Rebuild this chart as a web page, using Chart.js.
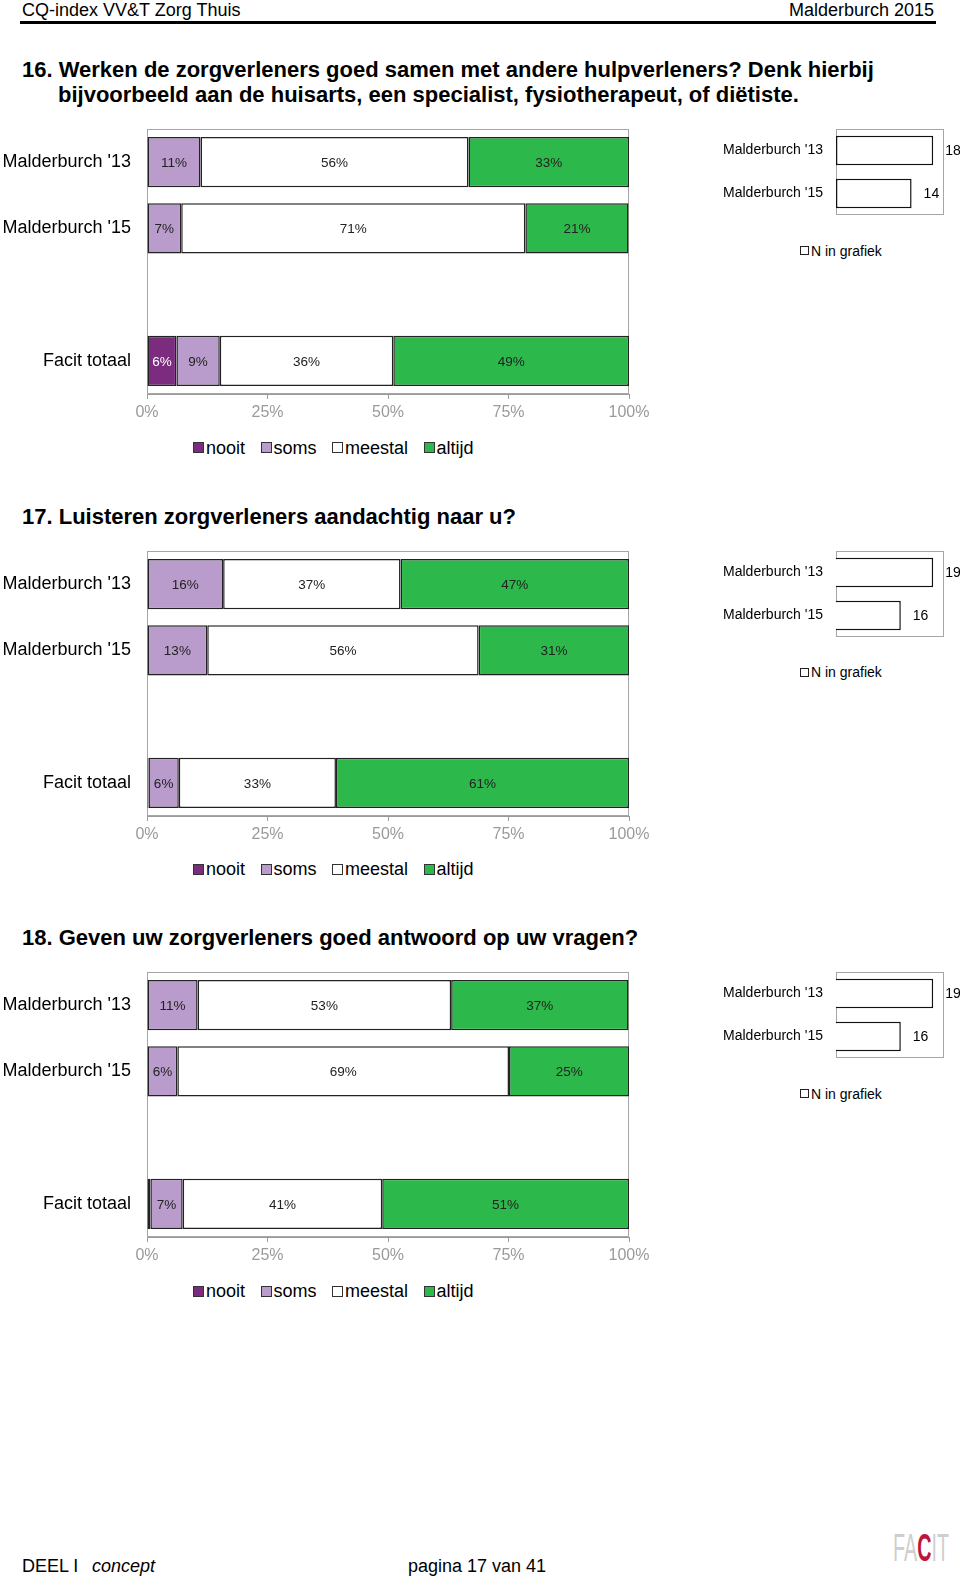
<!DOCTYPE html>
<html>
<head>
<meta charset="utf-8">
<title>CQ-index VV&amp;T Zorg Thuis - Malderburch 2015</title>
<script src="https://cdn.jsdelivr.net/npm/chart.js@4.4.1/dist/chart.umd.min.js"></script>
<style>
  body {
    margin: 0;
    width: 960px;
    height: 1578px;
    position: relative;
    overflow: hidden;
    background: #fff;
    font-family: "Liberation Sans", Arial, sans-serif;
    color: #000;
  }
  .abs { position: absolute; white-space: nowrap; }
  .head { top: 0; font-size: 18px; line-height: 20px; }
  .rule { left: 20px; top: 21px; width: 916px; height: 3px; background: #000; }
  .title {
    left: 22px;
    font-size: 22px;
    font-weight: bold;
    line-height: 25px;
    padding-left: 36px;
    text-indent: -36px;
    white-space: pre-line;
  }
  .legend { display: flex; align-items: center; font-size: 18px; line-height: 22px; }
  .legend .item { display: flex; align-items: center; margin-right: 15.5px; }
  .legend .box { width: 9px; height: 9px; border: 1px solid #333; margin-right: 2px; }
  .nlegend { display: flex; align-items: center; font-size: 14px; line-height: 18px; }
  .nlegend .box { width: 7px; height: 7px; border: 1px solid #222; margin-right: 2px; background: #fff; }
  .foot { top: 1556px; font-size: 18px; line-height: 20px; }
  .logo { left: 893px; top: 1528px; font-size: 38px; line-height: 40px; color: #cfcfcf;
          transform: scaleX(0.52); transform-origin: left top; }
  .logo b { color: #c0143c; }
  canvas { position: absolute; }
</style>
</head>
<body>
  <div class="abs head" style="left:22px">CQ-index VV&amp;T Zorg Thuis</div>
  <div class="abs head" style="right:26px">Malderburch 2015</div>
  <div class="abs rule"></div>

  <div class="abs foot" style="left:22px">DEEL I</div>
  <div class="abs foot" style="left:92px"><i>concept</i></div>
  <div class="abs foot" style="left:408px">pagina 17 van 41</div>
  <div class="abs logo">FA<b>C</b>IT</div>

<script>
  // categories and legend
  const categories = ["Malderburch '13", "Malderburch '15", "", "Facit totaal"];
  const answers = ["nooit", "soms", "meestal", "altijd"];
  const nCategories = ["Malderburch '13", "Malderburch '15"];

  // 16. samenwerking
  const q16Title = "16. Werken de zorgverleners goed samen met andere hulpverleners? Denk hierbij\nbijvoorbeeld aan de huisarts, een specialist, fysiotherapeut, of diëtiste.";
  const q16Nooit = [0, 0, null, 6.1];
  const q16Soms = [11.1, 7.1, null, 9.0];
  const q16Meestal = [55.6, 71.4, null, 36.0];
  const q16Altijd = [33.3, 21.4, null, 48.9];
  const q16N = [18, 14];
  const q16NRange = [0, 20];

  // 17. luisteren
  const q17Title = "17. Luisteren zorgverleners aandachtig naar u?";
  const q17Nooit = [0, 0, null, 0.3];
  const q17Soms = [15.8, 12.5, null, 6.3];
  const q17Meestal = [36.8, 56.3, null, 32.6];
  const q17Altijd = [47.4, 31.3, null, 60.8];
  const q17N = [19, 16];
  const q17NRange = [10, 20];

  // 18. antwoord op vragen
  const q18Title = "18. Geven uw zorgverleners goed antwoord op uw vragen?";
  const q18Nooit = [0, 0, null, 0.7];
  const q18Soms = [10.5, 6.3, null, 6.7];
  const q18Meestal = [52.6, 68.8, null, 41.4];
  const q18Altijd = [36.8, 25.0, null, 51.2];
  const q18N = [19, 16];
  const q18NRange = [10, 20];

  const colors = ["#7b2c7f", "#b99ccb", "#ffffff", "#2db84b"];
  const labelColors = ["#ffffff", "#222222", "#222222", "#222222"];
  const FONT = "'Liberation Sans', Arial, sans-serif";

  const sections = [
    { title: q16Title, series: [q16Nooit, q16Soms, q16Meestal, q16Altijd], n: q16N, range: q16NRange },
    { title: q17Title, series: [q17Nooit, q17Soms, q17Meestal, q17Altijd], n: q17N, range: q17NRange },
    { title: q18Title, series: [q18Nooit, q18Soms, q18Meestal, q18Altijd], n: q18N, range: q18NRange }
  ];

  // gray frame round the plot area
  const framePlugin = {
    id: "frame",
    beforeDatasetsDraw(chart) {
      const a = chart.chartArea;
      const ctx = chart.ctx;
      ctx.save();
      ctx.strokeStyle = "#a6a6a6";
      ctx.lineWidth = 1;
      ctx.strokeRect(Math.round(a.left) + 0.5, Math.round(a.top) + 0.5,
                     Math.round(a.width) - 1, Math.round(a.height) - 1);
      ctx.restore();
    }
  };

  // percentages centred in each segment
  const percentLabels = {
    id: "percentLabels",
    afterDatasetsDraw(chart) {
      const ctx = chart.ctx;
      ctx.save();
      ctx.font = "13.5px " + FONT;
      ctx.textAlign = "center";
      ctx.textBaseline = "middle";
      chart.data.datasets.forEach((ds, di) => {
        chart.getDatasetMeta(di).data.forEach((el, i) => {
          const v = ds.data[i];
          if (v == null || v < 3) return;
          const p = el.getProps(["x", "y", "base"], true);
          ctx.fillStyle = labelColors[di];
          ctx.fillText(Math.round(v) + "%", (p.x + p.base) / 2, p.y + 1);
        });
      });
      ctx.restore();
    }
  };

  // N values next to the bars
  const nLabels = {
    id: "nLabels",
    afterDatasetsDraw(chart) {
      const ctx = chart.ctx;
      ctx.save();
      ctx.font = "14px " + FONT;
      ctx.textAlign = "left";
      ctx.textBaseline = "middle";
      ctx.fillStyle = "#000";
      const ds = chart.data.datasets[0];
      chart.getDatasetMeta(0).data.forEach((el, i) => {
        const p = el.getProps(["x", "y"], true);
        ctx.fillText(String(ds.data[i]), p.x + 12, p.y + 1);
      });
      ctx.restore();
    }
  };

  function addDiv(cls, left, top) {
    const d = document.createElement("div");
    d.className = "abs " + cls;
    d.style.left = left + "px";
    d.style.top = top + "px";
    document.body.appendChild(d);
    return d;
  }

  function addCanvas(left, top, w, h) {
    const c = document.createElement("canvas");
    c.width = w;
    c.height = h;
    c.style.left = left + "px";
    c.style.top = top + "px";
    document.body.appendChild(c);
    return c;
  }

  sections.forEach((sec, k) => {
    const plotTop = 129 + 421.6 * k;
    const lines = sec.title.split("\n").length;

    const t = addDiv("title", 22, plotTop - 34.5 - 25 * (lines - 1) - 12.5);
    t.textContent = sec.title;

    // main stacked bar chart
    const mainCanvas = addCanvas(0, Math.round(plotTop) - 10, 660, 305);
    new Chart(mainCanvas, {
      type: "bar",
      data: {
        labels: categories,
        datasets: answers.map((name, di) => ({
          label: name,
          data: sec.series[di],
          backgroundColor: colors[di],
          borderColor: "#222",
          borderWidth: 1.5,
          borderSkipped: false,
          barPercentage: 0.76,
          categoryPercentage: 1
        }))
      },
      options: {
        indexAxis: "y",
        responsive: false,
        animation: false,
        layout: { padding: { top: 10, right: 31, left: 0, bottom: 0 } },
        scales: {
          x: {
            stacked: true,
            min: 0,
            max: 100,
            ticks: {
              stepSize: 25,
              callback: v => v + "%",
              color: "#9a9a9a",
              font: { size: 16, family: FONT },
              padding: 4
            },
            grid: { drawOnChartArea: false, drawTicks: true, tickLength: 5, color: "#9a9a9a" },
            border: { color: "#9a9a9a" },
            afterFit: s => { s.height = 30; s.paddingLeft = 0; s.paddingRight = 0; }
          },
          y: {
            stacked: true,
            ticks: { color: "#000", font: { size: 18, family: FONT }, padding: 16 },
            grid: { display: false, drawTicks: false },
            border: { color: "#a6a6a6" },
            afterFit: s => { s.width = 147; s.paddingTop = 0; s.paddingBottom = 0; }
          }
        },
        plugins: {
          legend: { display: false },
          tooltip: { enabled: false }
        }
      },
      plugins: [framePlugin, percentLabels]
    });

    // legend of the answer categories
    const lg = addDiv("legend", 193, plotTop + 318.8 - 11);
    answers.forEach((name, di) => {
      const item = document.createElement("span");
      item.className = "item";
      const box = document.createElement("span");
      box.className = "box";
      box.style.background = colors[di];
      item.appendChild(box);
      item.appendChild(document.createTextNode(name));
      lg.appendChild(item);
    });

    // N per group
    const nCanvas = addCanvas(705, Math.round(plotTop) - 8, 255, 96);
    new Chart(nCanvas, {
      type: "bar",
      data: {
        labels: nCategories,
        datasets: [{
          label: "N in grafiek",
          data: sec.n,
          backgroundColor: "#fff",
          borderColor: "#111",
          borderWidth: 1.5,
          borderSkipped: false,
          barPercentage: 0.69,
          categoryPercentage: 1
        }]
      },
      options: {
        indexAxis: "y",
        responsive: false,
        animation: false,
        layout: { padding: { top: 8, right: 16, left: 0, bottom: 2 } },
        scales: {
          x: { display: false, min: sec.range[0], max: sec.range[1] },
          y: {
            ticks: { color: "#000", font: { size: 14, family: FONT }, padding: 13 },
            grid: { display: false, drawTicks: false },
            border: { display: false },
            afterFit: s => { s.width = 131; s.paddingTop = 0; s.paddingBottom = 0; }
          }
        },
        plugins: {
          legend: { display: false },
          tooltip: { enabled: false }
        }
      },
      plugins: [framePlugin, nLabels]
    });

    const nl = addDiv("nlegend", 800, plotTop + 121.6 - 9);
    const nbox = document.createElement("span");
    nbox.className = "box";
    nl.appendChild(nbox);
    nl.appendChild(document.createTextNode("N in grafiek"));
  });
</script>
</body>
</html>
